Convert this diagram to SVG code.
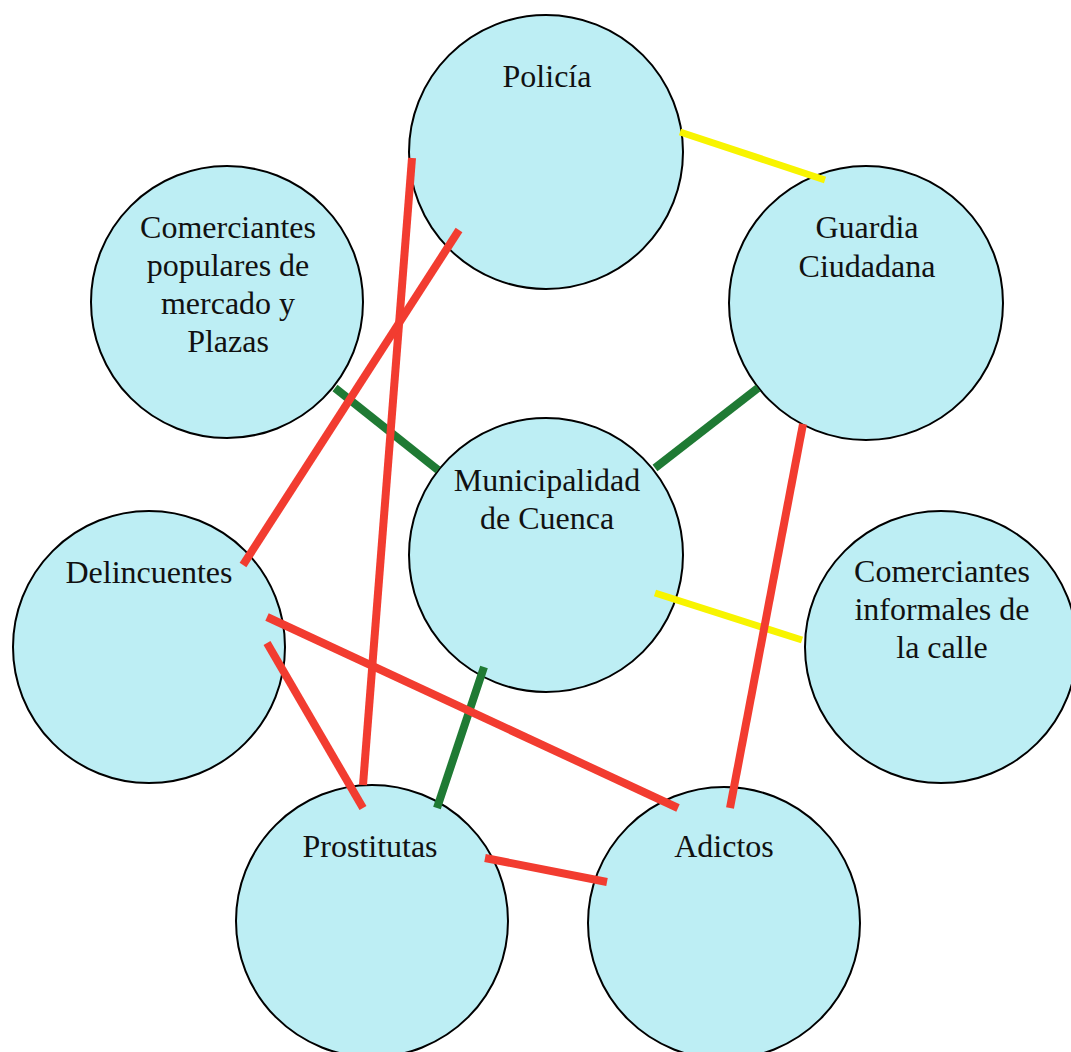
<svg xmlns="http://www.w3.org/2000/svg" width="1071" height="1052" viewBox="0 0 1071 1052">
<style>
.node circle{fill:#bdeef4;stroke:#000;stroke-width:2}
.node text{font-family:"Liberation Serif","Times New Roman",serif;font-size:32px;fill:#111;text-anchor:middle}
.red{stroke:#f23c30;stroke-width:8}
.green{stroke:#1f7a34;stroke-width:8}
.yellow{stroke:#f8f400;stroke-width:7}
</style>
<rect width="1071" height="1052" fill="#fff"/>
<g id="policia" class="node"><circle cx="546" cy="152" r="137"/><text x="547" y="87">Policía</text></g>
<g id="guardia" class="node"><circle cx="866" cy="303" r="137"/><text x="867" y="238">Guardia</text><text x="867" y="277">Ciudadana</text></g>
<g id="comerciantes-populares" class="node"><circle cx="227" cy="302" r="136"/><text x="228" y="238">Comerciantes</text><text x="228" y="276">populares de</text><text x="228" y="314">mercado y</text><text x="228" y="352">Plazas</text></g>
<g id="municipalidad" class="node"><circle cx="546" cy="555" r="137"/><text x="547" y="491">Municipalidad</text><text x="547" y="529">de Cuenca</text></g>
<g id="delincuentes" class="node"><circle cx="149" cy="647" r="136"/><text x="149" y="583">Delincuentes</text></g>
<g id="comerciantes-informales" class="node"><circle cx="941" cy="647" r="136"/><text x="942" y="582">Comerciantes</text><text x="942" y="620">informales de</text><text x="942" y="658">la calle</text></g>
<g id="prostitutas" class="node"><circle cx="372" cy="921" r="136"/><text x="370" y="857">Prostitutas</text></g>
<g id="adictos" class="node"><circle cx="724" cy="923" r="136"/><text x="724" y="857">Adictos</text></g>
<g id="connectors">
<line class="yellow" x1="680" y1="132" x2="825" y2="180"/>
<line class="yellow" x1="655" y1="593" x2="802" y2="640"/>
<line class="green" x1="335" y1="388" x2="438" y2="470"/>
<line class="green" x1="758" y1="388" x2="655" y2="468"/>
<line class="green" x1="484" y1="667" x2="437" y2="808"/>
<line class="red" x1="412" y1="158" x2="363" y2="785"/>
<line class="red" x1="459" y1="230" x2="243" y2="565"/>
<line class="red" x1="803" y1="424" x2="730" y2="808"/>
<line class="red" x1="267" y1="617" x2="678" y2="808"/>
<line class="red" x1="267" y1="643" x2="363" y2="808"/>
<line class="red" x1="485" y1="858" x2="607" y2="882"/>
</g>
</svg>
